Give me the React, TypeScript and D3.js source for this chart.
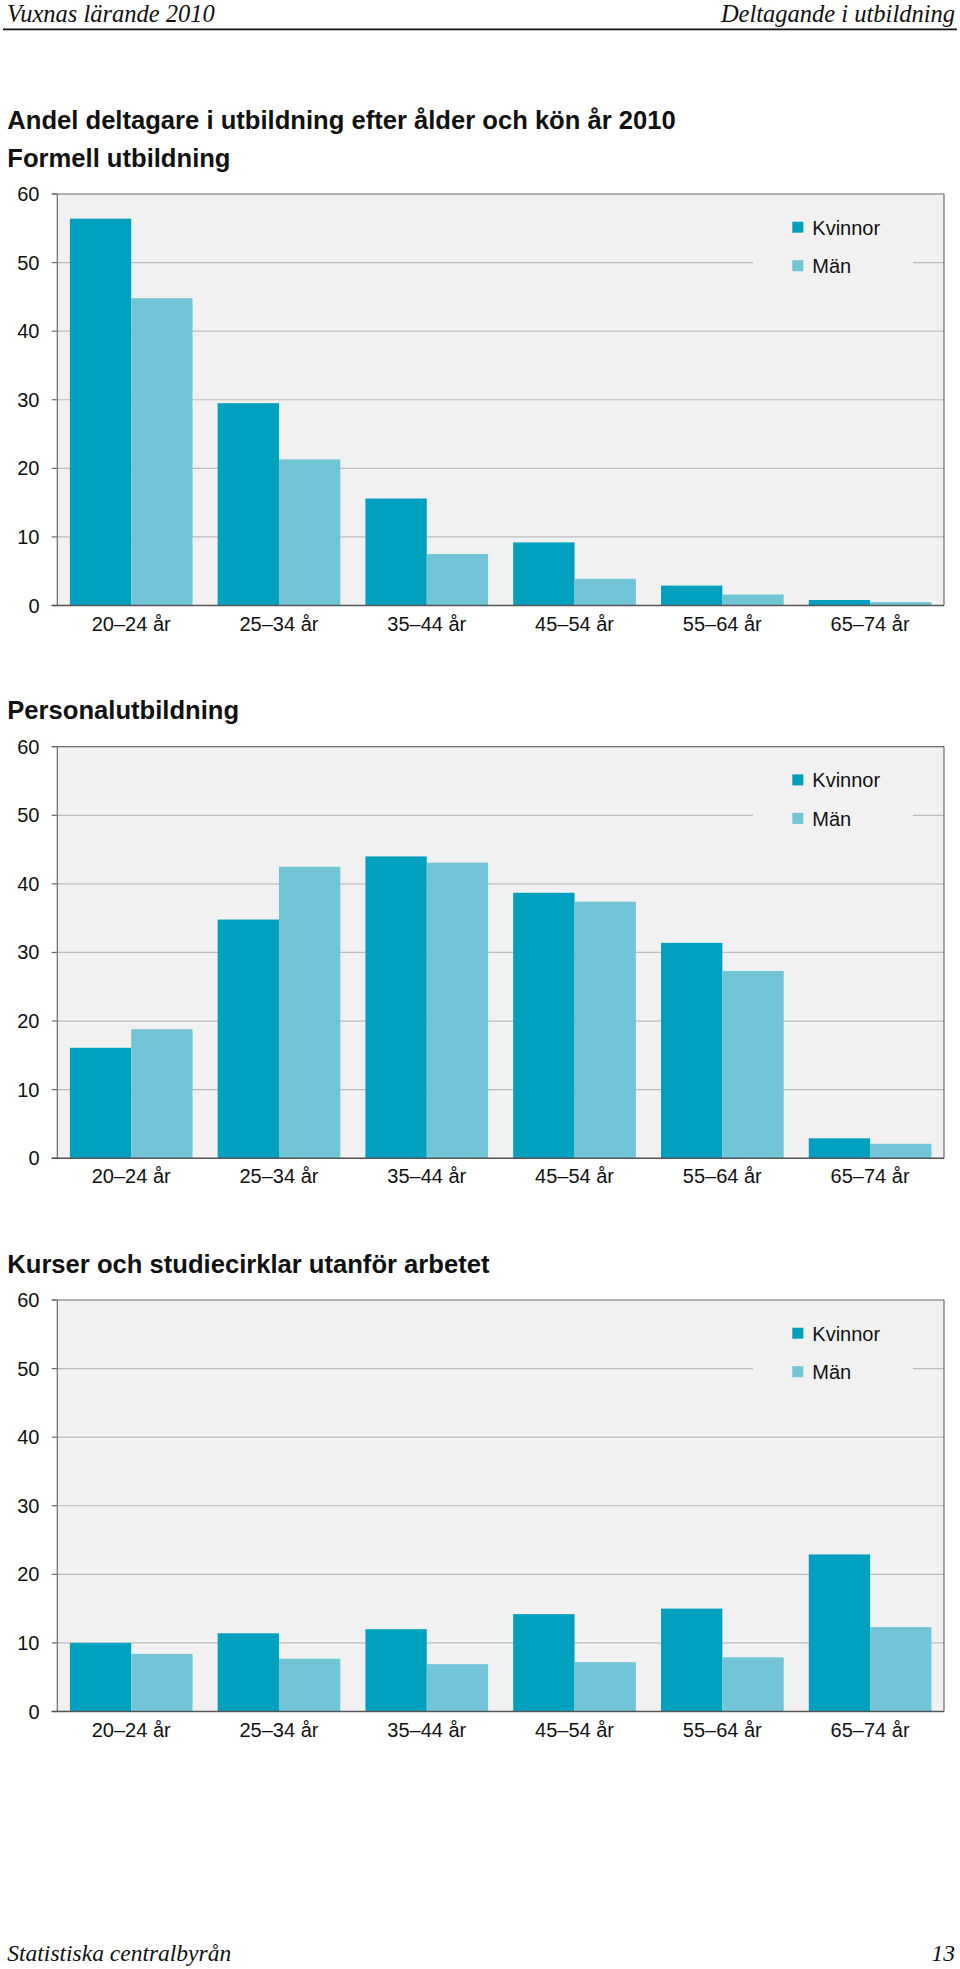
import React from "react";
import * as d3 from "d3";

const ageGroups = ["20–24 år", "25–34 år", "35–44 år", "45–54 år", "55–64 år", "65–74 år"];
const seriesNames = ["Kvinnor", "Män"];
const seriesColors = ["#00a0be", "#72c4d7"];
const yTicks = [0, 10, 20, 30, 40, 50, 60];

const formellKvinnor = [56.4, 29.5, 15.6, 9.2, 2.9, 0.8];
const formellMan = [44.8, 21.3, 7.5, 3.9, 1.6, 0.5];
const personalKvinnor = [16.1, 34.8, 44.0, 38.7, 31.4, 2.9];
const personalMan = [18.8, 42.5, 43.1, 37.4, 27.3, 2.1];
const kurserKvinnor = [10.0, 11.4, 12.0, 14.2, 15.0, 22.9];
const kurserMan = [8.4, 7.7, 6.9, 7.2, 7.9, 12.3];

const mainTitle = "Andel deltagare i utbildning efter ålder och kön år 2010";
const chartTitles = ["Formell utbildning", "Personalutbildning", "Kurser och studiecirklar utanför arbetet"];

const SANS = "'Liberation Sans', Arial, Helvetica, sans-serif";
const SERIF = "'Liberation Serif', 'Times New Roman', serif";

const PLOT_LEFT = 57.3;
const PLOT_RIGHT = 944;
const PLOT_H = 411.5;

function BarChart({ top, kvinnor, man }: { top: number; kvinnor: number[]; man: number[] }) {
  const x0 = d3
    .scaleBand<string>()
    .domain(ageGroups)
    .range([PLOT_LEFT, PLOT_RIGHT])
    .paddingInner(0.17)
    .paddingOuter(0.085);
  const x1 = d3.scaleBand<string>().domain(seriesNames).range([0, x0.bandwidth()]).padding(0);
  const y = d3.scaleLinear().domain([0, 60]).range([top + PLOT_H, top]);
  const values = [kvinnor, man];

  return (
    <g>
      <rect x={PLOT_LEFT} y={top} width={PLOT_RIGHT - PLOT_LEFT} height={PLOT_H} fill="#f1f1f1" />
      {yTicks.map((t) => (
        <g key={t}>
          {t !== 0 && t !== 60 && (
            <line x1={PLOT_LEFT} x2={PLOT_RIGHT} y1={y(t)} y2={y(t)} stroke="#bcbcbc" strokeWidth={1.2} />
          )}
          <line x1={PLOT_LEFT - 5.6} x2={PLOT_LEFT} y1={y(t)} y2={y(t)} stroke="#6a6a6a" strokeWidth={1.2} />
          <text x={39.5} y={y(t) + 7} textAnchor="end" fontFamily={SANS} fontSize={20} fill="#111">
            {t}
          </text>
        </g>
      ))}
      {/* legend box hiding gridline */}
      <rect x={753} y={top + 12} width={160} height={84} fill="#f1f1f1" />
      {ageGroups.map((g, i) => (
        <g key={g}>
          {seriesNames.map((s, si) => {
            const v = values[si][i];
            return (
              <rect
                key={s}
                x={(x0(g) as number) + (x1(s) as number)}
                y={y(v)}
                width={x1.bandwidth()}
                height={y(0) - y(v)}
                fill={seriesColors[si]}
              />
            );
          })}
          <text
            x={(x0(g) as number) + x0.bandwidth() / 2}
            y={y(0) + 25}
            textAnchor="middle"
            fontFamily={SANS}
            fontSize={20}
            fill="#111"
          >
            {g}
          </text>
        </g>
      ))}
      {/* frame */}
      <line x1={PLOT_LEFT - 5.6} x2={PLOT_RIGHT} y1={y(60)} y2={y(60)} stroke="#6a6a6a" strokeWidth={1.2} />
      <line x1={PLOT_RIGHT} x2={PLOT_RIGHT} y1={y(60)} y2={y(0)} stroke="#6a6a6a" strokeWidth={1.2} />
      <line x1={PLOT_LEFT} x2={PLOT_LEFT} y1={y(60)} y2={y(0)} stroke="#6a6a6a" strokeWidth={1.2} />
      <line x1={PLOT_LEFT - 5.6} x2={PLOT_RIGHT} y1={y(0)} y2={y(0)} stroke="#555" strokeWidth={1.4} />
      {/* legend */}
      {seriesNames.map((s, si) => (
        <g key={s}>
          <rect x={792.3} y={top + 27.7 + si * 38.5} width={11} height={11} fill={seriesColors[si]} />
          <text x={812.3} y={top + 40.5 + si * 38.5} fontFamily={SANS} fontSize={20} fill="#111">
            {s}
          </text>
        </g>
      ))}
    </g>
  );
}

export default function App() {
  const tops = [194, 746.7, 1300];
  const data = [
    [formellKvinnor, formellMan],
    [personalKvinnor, personalMan],
    [kurserKvinnor, kurserMan],
  ];
  return (
    <div style={{ position: "absolute", left: 0, top: 0 }}>
      <svg width={960} height={1969} viewBox="0 0 960 1969" style={{ display: "block", background: "#fff" }}>
        <rect x={0} y={0} width={960} height={1969} fill="#fff" />
        <text x={7} y={21.5} fontFamily={SERIF} fontStyle="italic" fontSize={24.5} fill="#111">
          Vuxnas lärande 2010
        </text>
        <text x={955} y={21.5} textAnchor="end" fontFamily={SERIF} fontStyle="italic" fontSize={24.5} fill="#111">
          Deltagande i utbildning
        </text>
        <line x1={3} x2={957} y1={29.3} y2={29.3} stroke="#111" strokeWidth={1.8} />

        <text x={7.3} y={129} fontFamily={SANS} fontWeight="bold" fontSize={25.6} fill="#111">
          {mainTitle}
        </text>
        {chartTitles.map((t, i) => (
          <text key={t} x={7.3} y={tops[i] - 27.5} fontFamily={SANS} fontWeight="bold" fontSize={25.6} fill="#111">
            {t}
          </text>
        ))}
        {tops.map((t, i) => (
          <BarChart key={i} top={t} kvinnor={data[i][0]} man={data[i][1]} />
        ))}

        <text x={7.3} y={1961} fontFamily={SERIF} fontStyle="italic" fontSize={23.5} fill="#111">
          Statistiska centralbyrån
        </text>
        <text x={955} y={1961} textAnchor="end" fontFamily={SERIF} fontStyle="italic" fontSize={23.5} fill="#111">
          13
        </text>
      </svg>
    </div>
  );
}
